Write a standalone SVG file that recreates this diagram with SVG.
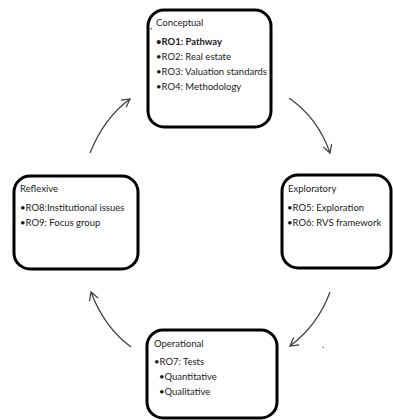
<svg xmlns="http://www.w3.org/2000/svg" width="393" height="420" viewBox="0 0 393 420">
<style>
.box{fill:#fff;stroke:#000;stroke-width:3}
.t{font-family:Lato,"Liberation Sans",sans-serif;font-size:9.5px;fill:#1a1a1a}
.b{font-weight:bold}
.arr{fill:none;stroke:#3a3a3a;stroke-width:1.2}
</style>
<defs>
<marker id="ah" markerWidth="12" markerHeight="12" refX="9" refY="5" orient="auto" markerUnits="userSpaceOnUse">
<path d="M1,0.5 L9,5 L1,9.5" fill="none" stroke="#3a3a3a" stroke-width="1.2"/>
</marker>
</defs>
<rect width="393" height="420" fill="#fff"/>
<g id="connectors">
<path class="arr" d="M90,153 Q104,118 130,99" marker-end="url(#ah)"/>
<path class="arr" d="M289,98 Q318,118 330,153" marker-end="url(#ah)"/>
<path class="arr" d="M330,292 Q318,325 290,346" marker-end="url(#ah)"/>
<path class="arr" d="M131,347 Q104,327 91,292" marker-end="url(#ah)"/>
</g>
<g id="conceptual">
<rect class="box" x="148" y="10" width="123" height="117" rx="16"/>
<text class="t" x="150" y="29">,</text>
<text class="t" x="156" y="26">Conceptual</text>
<text class="t b" x="156" y="45">•RO1: Pathway</text>
<text class="t" x="156" y="60">•RO2: Real estate</text>
<text class="t" x="156" y="75">•RO3: Valuation standards</text>
<text class="t" x="156" y="90">•RO4: Methodology</text>
</g>
<g id="exploratory">
<rect class="box" x="282" y="175" width="109" height="93" rx="16"/>
<text class="t" x="288" y="192">Exploratory</text>
<text class="t" x="287" y="211">•RO5: Exploration</text>
<text class="t" x="287" y="226">•RO6: RVS framework</text>
</g>
<g id="reflexive">
<rect class="box" x="14" y="176" width="124" height="93" rx="16"/>
<text class="t" x="20" y="192">Reflexive</text>
<text class="t" x="20" y="211">•RO8:Institutional issues</text>
<text class="t" x="20" y="226">•RO9: Focus group</text>
</g>
<g id="operational">
<rect class="box" x="147" y="330" width="130" height="88" rx="16"/>
<text class="t" x="154" y="347">Operational</text>
<text class="t" x="154" y="365">•RO7: Tests</text>
<text class="t" x="159" y="380">•Quantitative</text>
<text class="t" x="159" y="395">•Qualitative</text>
</g>
<text class="t" x="322" y="348">.</text>
</svg>
